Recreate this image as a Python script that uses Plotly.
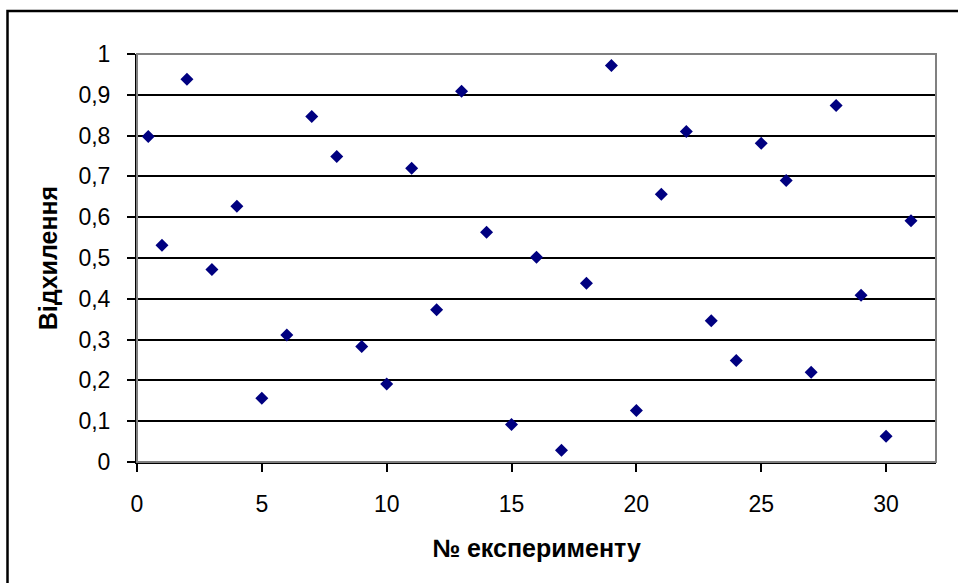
import plotly.graph_objects as go

experiment = [0.45, 1, 2, 3, 4, 5, 6, 7, 8, 9, 10, 11, 12, 13, 14, 15, 16,
              17, 18, 19, 20, 21, 22, 23, 24, 25, 26, 27, 28, 29, 30, 31]
deviation = [0.798, 0.531, 0.938, 0.472, 0.627, 0.156, 0.311, 0.847, 0.749,
             0.283, 0.191, 0.720, 0.373, 0.909, 0.563, 0.092, 0.502, 0.029,
             0.438, 0.972, 0.126, 0.656, 0.810, 0.346, 0.249, 0.781, 0.690,
             0.220, 0.874, 0.409, 0.063, 0.591]

W, H = 958, 583
L, R, T, B = 137, 22, 54, 121
pw, ph = W - L - R, H - T - B

def px_x(p):
    return (p - L) / pw

def px_y(p):
    return (H - B - p) / ph

FONT = "Liberation Sans, Arial, sans-serif"

fig = go.Figure()
fig.add_trace(go.Scatter(
    x=experiment, y=deviation, mode="markers",
    marker=dict(symbol="diamond", color="#000080", size=10, line=dict(width=0)),
    showlegend=False,
))

fig.update_layout(
    width=W, height=H,
    margin=dict(l=L, r=R, t=T, b=B, autoexpand=False),
    paper_bgcolor="white", plot_bgcolor="white",
    separators=", ",
    font=dict(family=FONT, size=23, color="black"),
    xaxis=dict(
        range=[0, 32], tick0=0, dtick=5, showgrid=False, zeroline=False,
        showline=True, linecolor="black", linewidth=2,
        ticks="outside", ticklen=8, tickwidth=2, tickcolor="black",
        ticklabelstandoff=12,
        tickfont=dict(family=FONT, size=23),
        title=dict(text="<b>№ експерименту</b>", standoff=24,
                   font=dict(family=FONT, size=25)),
    ),
    yaxis=dict(
        range=[0, 1], tick0=0, dtick=0.1, showgrid=True, gridcolor="black",
        gridwidth=1.5, zeroline=False,
        showline=True, linecolor="black", linewidth=2,
        ticks="outside", ticklen=8, tickwidth=2, tickcolor="black",
        ticklabelstandoff=12,
        tickfont=dict(family=FONT, size=23),
        title=dict(text="<b>Відхилення</b>", standoff=14,
                   font=dict(family=FONT, size=25)),
    ),
    shapes=[
        # plot-area border (grey, top & right)
        dict(type="rect", xref="paper", yref="paper", x0=0, y0=0, x1=1, y1=1,
             line=dict(color="#808080", width=2), layer="above"),
        # outer chart border
        dict(type="rect", xref="paper", yref="paper",
             x0=px_x(7.5), y0=px_y(600), x1=px_x(975), y1=px_y(11),
             line=dict(color="black", width=2.5), layer="below"),
    ],
)

fig.write_html("out.html")
